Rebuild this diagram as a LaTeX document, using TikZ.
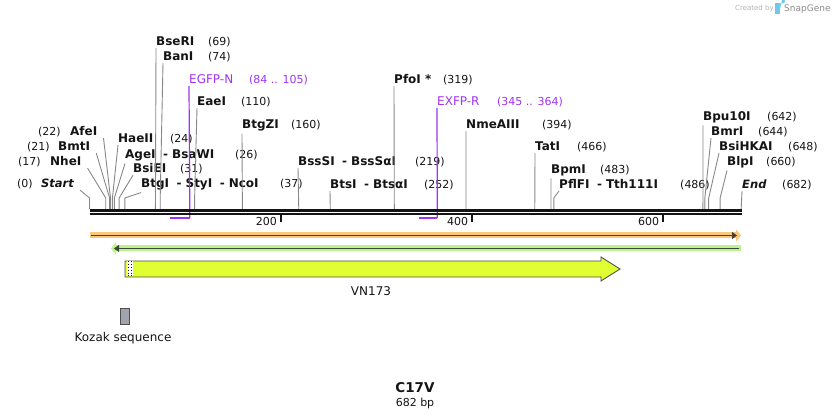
\documentclass[tikz,border=0pt]{standalone}
\usepackage{fontspec}
\setmainfont{DejaVu Sans}
\usetikzlibrary{arrows.meta}
\definecolor{txtdark}{RGB}{20,20,20}
\definecolor{cutgray}{RGB}{135,135,135}
\definecolor{primerviolet}{RGB}{160,50,240}
\definecolor{orangehalo}{RGB}{250,200,125}
\definecolor{orangeline}{RGB}{75,62,50}
\definecolor{greenhalo}{RGB}{190,242,140}
\definecolor{greenline}{RGB}{60,72,55}
\definecolor{cdsyellow}{RGB}{224,255,51}
\definecolor{kozakgray}{RGB}{160,164,172}
\definecolor{logoblue}{RGB}{110,200,240}
\newcommand{\enzsep}{\hspace{7.5pt}-\hspace{4pt}}

\begin{document}
\begin{tikzpicture}[x=1pt,y=-1pt,
  enz/.style={font=\fontsize{12}{14}\selectfont\bfseries, inner sep=0pt, outer ysep=2pt, anchor=base west, text=txtdark},
  ends/.style={enz, font=\fontsize{11.5}{14}\selectfont\bfseries\itshape},
  numlabel/.style={font=\fontsize{11}{13}\selectfont, inner sep=0pt, anchor=base west, text=txtdark},
  primlabel/.style={font=\fontsize{12}{14}\selectfont, inner sep=0pt, outer ysep=2pt, anchor=base west, text=primerviolet},
  primrange/.style={font=\fontsize{11}{13}\selectfont, inner sep=0pt, anchor=base west, text=primerviolet},
  featlabel/.style={font=\fontsize{12}{14}\selectfont, inner sep=0pt, text=txtdark},
  cut/.style={cutgray, line width=0.9},
  primer/.style={primerviolet, line width=1.2}]
\useasboundingbox (0,0) rectangle (832,419);

% sites on the backbone
\foreach \bp in {0,17,21,22,24,26,31,37,69,74,110,160,219,252,319,394,466,483,486,642,644,648,660,682} {
  \coordinate (s\bp) at ({89.5+\bp*0.9555},209);
  \coordinate (k\bp) at ({89.5+\bp*0.9555},198);
}
\foreach \bp in {84,105,345,364} \coordinate (p\bp) at ({89.5+\bp*0.9555},218);

% labels left of the sites
\node[numlabel] (n0) at (17,188) {(0)};
\node[ends] (Start) at (41,188) {Start};
\node[numlabel] (n17) at (18,166) {(17)};
\node[enz] (NheI) at (50,166) {NheI};
\node[numlabel] (n21) at (27,151) {(21)};
\node[enz] (BmtI) at (58,151) {BmtI};
\node[numlabel] (n22) at (38,136) {(22)};
\node[enz] (AfeI) at (70,136) {AfeI};

% labels right of the sites
\node[enz] (BseRI) at (156,46) {BseRI};
\node[numlabel] (n69) at (208,46) {(69)};
\node[enz] (BanI) at (163,61) {BanI};
\node[numlabel] (n74) at (208,61) {(74)};
\node[primlabel] (EGFPN) at (189,84) {EGFP-N};
\node[primrange] (n84) at (249,84) {(84 .. 105)};
\node[enz] (EaeI) at (197,106) {EaeI};
\node[numlabel] (n110) at (241,106) {(110)};
\node[enz] (HaeII) at (118,143) {HaeII};
\node[numlabel] (n24) at (170,143) {(24)};
\node[enz] (AgeI) at (125,159) {AgeI\enzsep BsaWI};
\node[numlabel] (n26) at (235,159) {(26)};
\node[enz] (BsiEI) at (133,173) {BsiEI};
\node[numlabel] (n31) at (180,173) {(31)};
\node[enz] (BtgI) at (141,188) {BtgI\enzsep StyI\enzsep NcoI};
\node[numlabel] (n37) at (280,188) {(37)};
\node[enz] (BtgZI) at (242,129) {BtgZI};
\node[numlabel] (n160) at (291,129) {(160)};
\node[enz] (BssSI) at (298,166) {BssSI\enzsep BssSαI};
\node[numlabel] (n219) at (415,166) {(219)};
\node[enz] (BtsI) at (330,189) {BtsI\enzsep BtsαI};
\node[numlabel] (n252) at (424,189) {(252)};
\node[enz] (PfoI) at (394,84) {PfoI *};
\node[numlabel] (n319) at (443,84) {(319)};
\node[primlabel] (EXFPR) at (437,106) {EXFP-R};
\node[primrange] (n345) at (497,106) {(345 .. 364)};
\node[enz] (NmeAIII) at (466,129) {NmeAIII};
\node[numlabel] (n394) at (542,129) {(394)};
\node[enz] (TatI) at (535,151) {TatI};
\node[numlabel] (n466) at (577,151) {(466)};
\node[enz] (BpmI) at (551,174) {BpmI};
\node[numlabel] (n483) at (600,174) {(483)};
\node[enz] (PflFI) at (559,189) {PflFI\enzsep Tth111I};
\node[numlabel] (n486) at (680,189) {(486)};
\node[enz] (Bpu10I) at (703,121) {Bpu10I};
\node[numlabel] (n642) at (767,121) {(642)};
\node[enz] (BmrI) at (711,136) {BmrI};
\node[numlabel] (n644) at (758,136) {(644)};
\node[enz] (BsiHKAI) at (719,151) {BsiHKAI};
\node[numlabel] (n648) at (788,151) {(648)};
\node[enz] (BlpI) at (727,166) {BlpI};
\node[numlabel] (n660) at (766,166) {(660)};
\node[ends] (End) at (742,189) {End};
\node[numlabel] (n682) at (782,189) {(682)};

% cut lines
\draw[cut] ([xshift=6pt]Start.south east) -- (k0) -- (s0);
\draw[cut] ([xshift=6pt]NheI.south east) -- (k17) -- (s17);
\draw[cut] ([xshift=6pt]BmtI.south east) -- (k21) -- (s21);
\draw[cut] ([xshift=6pt]AfeI.south east) -- (k22) -- (s22);
\draw[cut] (HaeII.south west) -- (k24) -- (s24);
\draw[cut] (AgeI.south west) -- (k26) -- (s26);
\draw[cut] (BsiEI.south west) -- (k31) -- (s31);
\draw[cut] (BtgI.south west) -- (k37) -- (s37);
\draw[cut] (BseRI.south west) -- (s69);
\draw[cut] (BanI.south west) -- (k74) -- (s74);
\draw[cut] (EaeI.south west) -- (k110) -- (s110);
\draw[cut] (BtgZI.south west) -- (s160);
\draw[cut] (BssSI.south west) -- (s219);
\draw[cut] (BtsI.south west) -- (s252);
\draw[cut] (PfoI.south west) -- (s319);
\draw[cut] (NmeAIII.south west) -- (s394);
\draw[cut] (TatI.south west) -- (s466);
\draw[cut] (BpmI.south west) -- (s483);
\draw[cut] (PflFI.south west) -- (k486) -- (s486);
\draw[cut] (Bpu10I.south west) -- (s642);
\draw[cut] (BmrI.south west) -- (k644) -- (s644);
\draw[cut] (BsiHKAI.south west) -- (k648) -- (s648);
\draw[cut] (BlpI.south west) -- (k660) -- (s660);
\draw[cut] (End.south west) -- (s682);

% primers
\draw[primer] (EGFPN.south west) -- (p105);
\draw[primerviolet, line width=2] (p105) -- (p84);
\draw[primer] (EXFPR.south west) -- (p364);
\draw[primerviolet, line width=2] (p364) -- (p345);

% backbone and ruler
\draw[txtdark, line width=2.3] (89.5,210.4) -- (741.5,210.4);
\draw[txtdark, line width=2.3] (89.5,214.2) -- (741.5,214.2);
\foreach \t/\tx in {200/280.6,400/471.7,600/662.8} {
  \draw[txtdark, line width=2] (\tx,215) -- (\tx,222);
  \node[numlabel, anchor=base east] (t\t) at (\tx-3.5,225.5) {\t};
}

% features
\draw[orangehalo, line width=6, -{Triangle[length=5pt,width=12pt]}] (89.5,235.5) -- (741,235.5);
\draw[orangeline, line width=1.8, -{Triangle[length=5pt,width=7pt]}] (91,235.5) -- (737,235.5);
\draw[greenhalo, line width=6, -{Triangle[length=5pt,width=12pt]}] (741,248.5) -- (111,248.5);
\draw[greenline, line width=1.8, -{Triangle[length=5pt,width=7pt]}] (739,248.5) -- (114,248.5);

\draw[fill=cdsyellow, draw=txtdark!75, line width=0.9]
  (125,261) -- (601,261) -- (601,257) -- (620,269) -- (601,281) -- (601,277) -- (125,277) -- cycle;
\fill[white] (126.5,261.5) rectangle (132.5,276.5);
\draw[txtdark, dotted, line width=0.8] (128,261.5) -- (128,276.5);
\draw[txtdark, dotted, line width=0.8] (131.2,261.5) -- (131.2,276.5);
\node[featlabel] (VN173) at (371,291) {VN173};

\node[draw=txtdark!75, fill=kozakgray, line width=0.9, minimum width=9pt, minimum height=16pt, inner sep=0pt] (kozak) at (124.5,316) {};
\node[featlabel] (kozaklabel) at (123,338) {Kozak sequence};

% title
\node[font=\fontsize{13.5}{15}\selectfont\bfseries, text=txtdark, inner sep=0pt] (title) at (415,388) {C17V};
\node[numlabel, anchor=center] (length) at (415,403) {682 bp};

% credit
\node[font=\fontsize{7}{8}\selectfont, text=black!30, inner sep=0pt, anchor=base west] (created) at (735,11) {Created by};
\fill[logoblue] (775,3.5) rectangle (780,14.5);
\fill[logoblue] (780,3.5) -- (782.5,3.5) arc (90:-90:2.5) -- (780,8.5) -- cycle;
\node[font=\fontsize{9}{10}\selectfont, text=black!45, inner sep=0pt, anchor=base west] (snapgene) at (784,12) {SnapGene};
\end{tikzpicture}
\end{document}
